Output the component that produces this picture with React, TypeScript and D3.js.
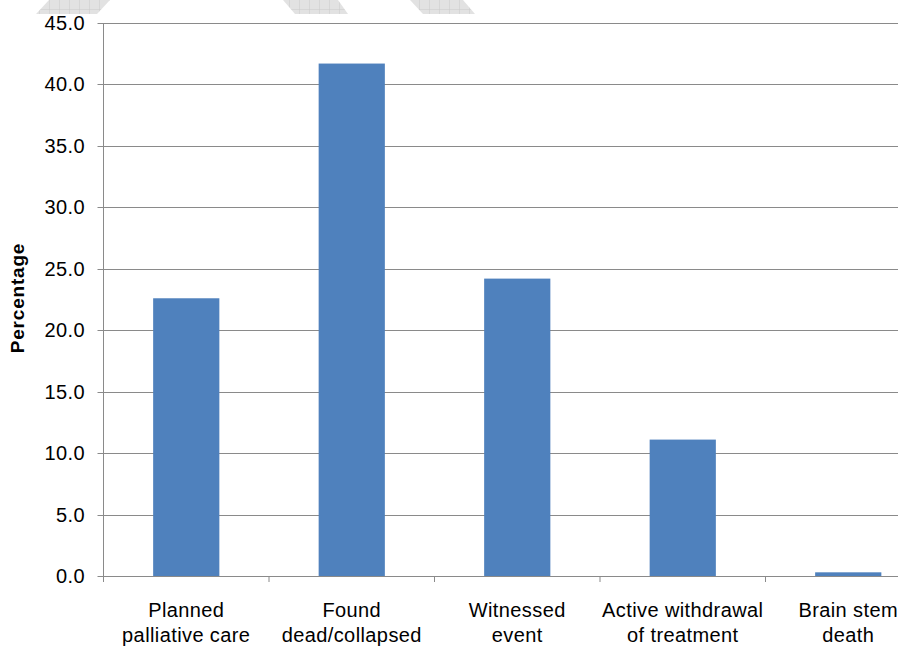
import React from "react";
import * as d3 from "d3";

const categories: string[][] = [
  ["Planned", "palliative care"],
  ["Found", "dead/collapsed"],
  ["Witnessed", "event"],
  ["Active withdrawal", "of treatment"],
  ["Brain stem", "death"],
];
const values: number[] = [22.6, 41.7, 24.2, 11.1, 0.3];
const yTicks: number[] = [0, 5, 10, 15, 20, 25, 30, 35, 40, 45];
const yLabel = "Percentage";

const W = 898;
const H = 646;
const x0 = 103.5;
const step = 165.5;
const yTop = 23;
const yBottom = 576;

export default function App() {
  const keys = categories.map((c) => c.join(" "));
  const x = d3
    .scaleBand<string>()
    .domain(keys)
    .range([x0, x0 + step * keys.length])
    .paddingInner(0.6)
    .paddingOuter(0.3);
  const y = d3.scaleLinear().domain([0, 45]).range([yBottom, yTop]);
  const font = "'Liberation Sans', Arial, sans-serif";
  const boundaries = d3.range(keys.length + 1).map((i) => x0 + i * x.step());

  const decor = [
    [[36, 14], [49, 0], [110, 0], [97, 14]],
    [[283, 0], [338, 0], [348, 14], [295, 14]],
    [[410, 0], [463, 0], [475, 14], [423, 14]],
  ];

  return (
    <svg
      width={W}
      height={H}
      style={{ position: "absolute", left: 0, top: 0, background: "#fff" }}
    >
      <defs>
        <pattern id="grid" width="10" height="10" patternUnits="userSpaceOnUse">
          <rect width="10" height="10" fill="#e2e2e2" />
          <path d="M10 0 V10 M0 10 H10" stroke="#cacaca" strokeWidth="1" />
        </pattern>
      </defs>
      {decor.map((p, i) => (
        <polygon key={i} points={p.map((q) => q.join(",")).join(" ")} fill="url(#grid)" />
      ))}
      {yTicks.map((t) => (
        <g key={t}>
          {t > 0 && (
            <line x1={x0} x2={W} y1={Math.round(y(t)) + 0.5} y2={Math.round(y(t)) + 0.5} stroke="#8a8a8a" strokeWidth={1} />
          )}
          <line x1={x0 - 6} x2={x0} y1={Math.round(y(t)) + 0.5} y2={Math.round(y(t)) + 0.5} stroke="#8a8a8a" />
          <text
            x={85}
            y={y(t)}
            dy="0.35em"
            textAnchor="end"
            fontFamily={font}
            fontSize={20}
            letterSpacing={0.4}
            fill="#000"
          >
            {t.toFixed(1)}
          </text>
        </g>
      ))}
      {keys.map((k, i) => (
        <rect
          key={k}
          x={x(k)}
          y={y(values[i])}
          width={x.bandwidth()}
          height={y(0) - y(values[i])}
          fill="#4f81bd"
        />
      ))}
      <line x1={x0} x2={x0} y1={yTop} y2={yBottom} stroke="#8a8a8a" />
      <line x1={x0} x2={W} y1={yBottom + 0.5} y2={yBottom + 0.5} stroke="#8a8a8a" />
      {boundaries.map((b, i) => (
        <line key={i} x1={b} x2={b} y1={yBottom} y2={yBottom + 6} stroke="#8a8a8a" />
      ))}
      {categories.map((c, i) => (
        <text
          key={i}
          x={(x(keys[i]) as number) + x.bandwidth() / 2}
          y={617}
          textAnchor="middle"
          fontFamily={font}
          fontSize={20}
          letterSpacing={0.4}
          fill="#000"
        >
          {c.map((line, j) => (
            <tspan key={j} x={(x(keys[i]) as number) + x.bandwidth() / 2} dy={j === 0 ? 0 : 25}>
              {line}
            </tspan>
          ))}
        </text>
      ))}
      <text
        transform={`translate(24, 298) rotate(-90)`}
        textAnchor="middle"
        fontFamily={font}
        fontSize={19}
        fontWeight="bold"
        letterSpacing={0.8}
        fill="#000"
      >
        {yLabel}
      </text>
    </svg>
  );
}
